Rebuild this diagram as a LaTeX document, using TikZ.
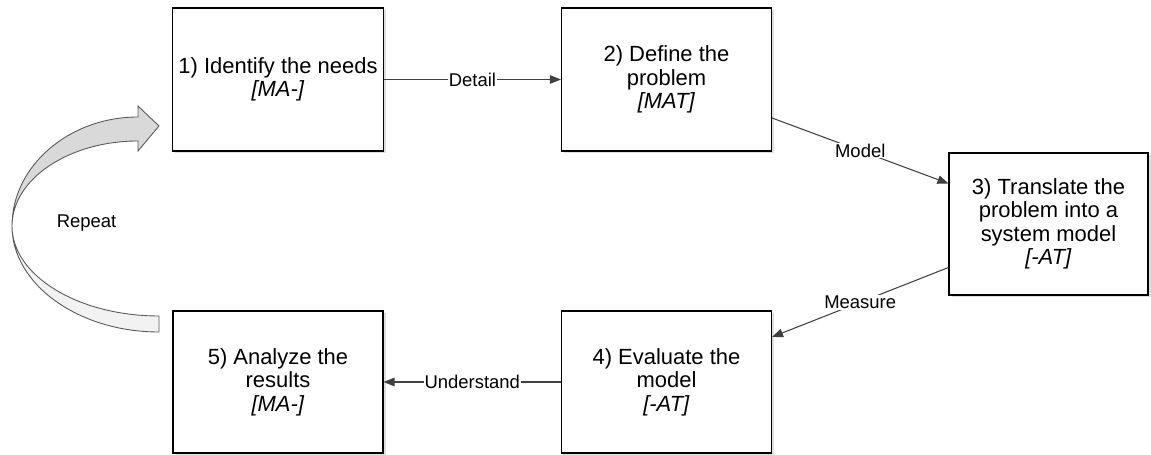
\documentclass[tikz,border=0pt]{standalone}
\usepackage{fontspec}
\setmainfont{Liberation Sans}
\usetikzlibrary{arrows.meta,shadows}

\begin{document}
\begin{tikzpicture}[draw=black,color=black]

                \tikzset{stage/.style = {shape=rectangle,draw,line width=0.6pt,fill=white,minimum width=4.2cm,minimum height=2.86cm,align=center,font=\fontsize{12.5}{13.3}\selectfont,drop shadow={shadow xshift=0.05cm,shadow yshift=-0.05cm,opacity=0.25}}}
                \tikzset{edge/.style = {->,> = {Triangle[length=2.2mm,width=1.7mm]},draw=black!75,line width=0.6pt}}
                \tikzset{tag/.style = {fill=white,inner sep=0.5pt,font=\fontsize{10.5}{12}\selectfont}}
                \useasboundingbox (0,0) rectangle (23.02,9.1);
                \node[stage] (1) at (5.56, 7.51) {1) Identify the needs\\\textit{[MA-]}};
                \node[stage] (2) at (13.33, 7.51) {2) Define the\\problem\\\textit{[MAT]}};
                \node[stage,minimum width=3.98cm,minimum height=2.84cm] (3) at (20.97, 4.62) {3) Translate the\\problem into a\\system model\\\textit{[-AT]}};
                \node[stage,minimum height=2.84cm] (4) at (13.33, 1.46) {4) Evaluate the\\model\\\textit{[-AT]}};
                \node[stage,minimum height=2.84cm] (5) at (5.56, 1.46) {5) Analyze the\\results\\\textit{[MA-]}};
                \draw[edge] (1) -- node[tag] {Detail} (2);
                \draw[edge] ([yshift=-0.77cm]2.east) -- node[tag] {Model} ([yshift=0.81cm]3.west);
                \draw[edge] ([yshift=-0.87cm]3.west) -- node[tag] {Measure} ([yshift=0.9cm]4.east);
                \draw[edge] (4) -- node[tag] {Understand} (5);
                \draw[draw=black!65,fill=black!5,line width=0.5pt] (0.24,4.58) .. controls (0.24,3.42) and (1.56,2.46) .. (3.18,2.46) -- (3.18,2.78) .. controls (1.56,2.78) and (0.24,3.59) .. cycle;
                \draw[draw=black!65,fill=black!15,line width=0.5pt] (0.24,4.58) .. controls (0.24,5.78) and (1.38,6.76) .. (2.76,6.76) -- (2.76,6.98) -- (3.18,6.58) -- (2.76,6.08) -- (2.76,6.28) .. controls (1.38,6.28) and (0.24,5.52) .. cycle;
                \node[tag,fill=none] (repeat) at (1.73, 4.64) {Repeat};
            \end{tikzpicture}
\end{document}
